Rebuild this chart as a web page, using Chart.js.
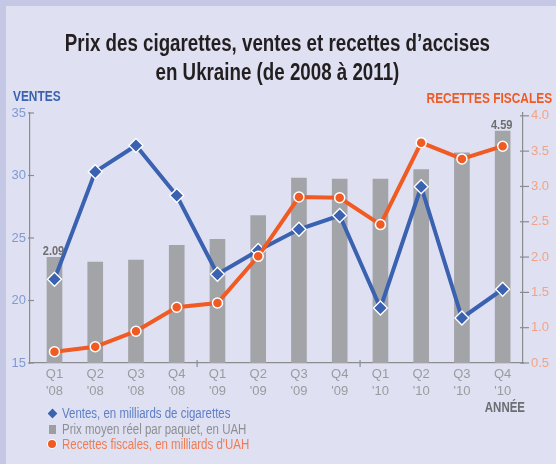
<!DOCTYPE html>
<html>
<head>
<meta charset="utf-8">
<script src="https://cdn.jsdelivr.net/npm/chart.js@4/dist/chart.umd.min.js"></script>
<style>
  html, body { margin: 0; padding: 0; }
  body { width: 556px; height: 464px; position: relative; overflow: hidden; background: #dfe1f2;
         font-family: "Liberation Sans", Arial, sans-serif; }
  #bandTop { position: absolute; left: 0; top: 0; width: 556px; height: 6px; background: #c5c8e5; }
  #bandLeft { position: absolute; left: 0; top: 0; width: 6px; height: 464px; background: #c5c8e5; }
  #chart { position: absolute; left: 0; top: 0; }
  #title { position: absolute; left: 0; top: 29px; width: 556px; text-align: center; font-weight: bold;
           font-size: 23px; line-height: 29px; color: #231f20; white-space: nowrap;
           transform: scaleX(0.815); transform-origin: 275px 0; }
  .axisTitle { position: absolute; font-weight: bold; font-size: 14px; line-height: 16px; white-space: nowrap; }
  #tVentes { left: 13px; top: 88px; color: #3a62b0; font-size: 14.5px; transform: scaleX(0.82); transform-origin: 0 0; }
  #tRecettes { right: 4px; top: 90px; color: #ef5a24; font-size: 14.5px; transform: scaleX(0.82); transform-origin: 100% 0; }
  #tAnnee { right: 31px; top: 399px; color: #6d6e71; transform: scaleX(0.82); transform-origin: 100% 0; }
  #legend { position: absolute; left: 46px; top: 406px; font-size: 14px; line-height: 15.5px; }
  .li { position: relative; padding-left: 16px; white-space: nowrap; }
  .tx { display: inline-block; transform: scaleX(0.82); transform-origin: 0 0; }
  .mk { position: absolute; display: block; }
  .dia { left: 3px; top: 4px; width: 7px; height: 7px; background: #3a62b0; transform: rotate(45deg); box-shadow: 0 0 0 0.8px #e8eaf6; }
  .sq { left: 3px; top: 3px; width: 7px; height: 9px; background: #9d9ea1; }
  .ci { left: 2px; top: 3px; width: 8px; height: 8px; border-radius: 50%; background: #f05a23; box-shadow: 0 0 0 1px #ffffff; }
</style>
</head>
<body>
<div id="bandTop"></div>
<div id="bandLeft"></div>
<canvas id="chart" width="556" height="464"></canvas>
<div id="title">Prix des cigarettes, ventes et recettes d’accises<br>en Ukraine (de 2008 à 2011)</div>
<div class="axisTitle" id="tVentes">VENTES</div>
<div class="axisTitle" id="tRecettes">RECETTES FISCALES</div>
<div class="axisTitle" id="tAnnee">ANNÉE</div>
<div id="legend">
  <div class="li" style="color:#5f7ec5"><span class="mk dia"></span><span class="tx">Ventes, en milliards de cigarettes</span></div>
  <div class="li" style="color:#8e8f92"><span class="mk sq"></span><span class="tx">Prix moyen réel par paquet, en UAH</span></div>
  <div class="li" style="color:#f07b52"><span class="mk ci"></span><span class="tx">Recettes fiscales, en milliards d'UAH</span></div>
</div>
<script>
// ---- data ----
const quarters = ["Q1", "Q2", "Q3", "Q4", "Q1", "Q2", "Q3", "Q4", "Q1", "Q2", "Q3", "Q4"];
const years = ["'08", "'08", "'08", "'08", "'09", "'09", "'09", "'09", "'10", "'10", "'10", "'10"];
const ventes = [21.7, 30.3, 32.4, 28.4, 22.1, 24.0, 25.7, 26.8, 19.4, 29.1, 18.6, 20.9];
const prix = [2.09, 2.00, 2.04, 2.33, 2.45, 2.92, 3.66, 3.64, 3.64, 3.83, 4.16, 4.59];
const recettes = [0.66, 0.73, 0.95, 1.29, 1.35, 2.01, 2.85, 2.84, 2.46, 3.62, 3.39, 3.57];
const leftTicks = [15, 20, 25, 30, 35];
const rightTicks = [0.5, 1.0, 1.5, 2.0, 2.5, 3.0, 3.5, 4.0];
const labelledBars = [0, 11];

const labels = quarters.map((q, i) => [q, years[i]]);
const FONT = '"Liberation Sans", Arial, sans-serif';
const AXIS = '#8b8c8f';

const decor = {
  id: 'decor',
  afterDraw(chart) {
    const ctx = chart.ctx;
    const xs = chart.scales.x, yl = chart.scales.yL, yr = chart.scales.yR;
    ctx.save();
    ctx.strokeStyle = AXIS;
    ctx.lineWidth = 1.2;
    yl.ticks.forEach((t, i) => {
      const y = yl.getPixelForTick(i);
      ctx.beginPath(); ctx.moveTo(yl.right - 2, y); ctx.lineTo(yl.right + 4, y); ctx.stroke();
    });
    yr.ticks.forEach((t, i) => {
      const y = yr.getPixelForTick(i);
      ctx.beginPath(); ctx.moveTo(yr.left - 3, y); ctx.lineTo(yr.left + 6, y); ctx.stroke();
    });
    // year separators on the x axis
    for (let i = 1; i < years.length; i++) {
      if (years[i] !== years[i - 1]) {
        const x = (xs.getPixelForValue(i - 1) + xs.getPixelForValue(i)) / 2;
        ctx.beginPath(); ctx.moveTo(x, xs.top - 3); ctx.lineTo(x, xs.top + 4); ctx.stroke();
      }
    }
    // value labels above first and last bars
    const meta = chart.getDatasetMeta(2);
    ctx.fillStyle = '#6d6e71';
    ctx.font = 'bold 13px ' + FONT;
    ctx.textAlign = 'center';
    ctx.textBaseline = 'alphabetic';
    labelledBars.forEach(i => {
      const el = meta.data[i];
      ctx.save();
      ctx.translate(el.x - 1, el.y - 2);
      ctx.scale(0.85, 1);
      ctx.fillText(prix[i].toFixed(2), 0, 0);
      ctx.restore();
    });
    ctx.restore();
  }
};

new Chart(document.getElementById('chart'), {
  data: {
    labels: labels,
    datasets: [
      { type: 'line', label: "Recettes fiscales, en milliards d'UAH", data: recettes, yAxisID: 'yR',
        borderColor: '#f05a23', borderWidth: 4, tension: 0, order: 0,
        pointStyle: 'circle', pointRadius: 5, pointBackgroundColor: '#f05a23',
        pointBorderColor: '#ffffff', pointBorderWidth: 1.5 },
      { type: 'line', label: 'Ventes, en milliards de cigarettes', data: ventes, yAxisID: 'yL',
        borderColor: '#3a62b0', borderWidth: 4, tension: 0, order: 1,
        pointStyle: 'rectRot', pointRadius: 7, pointBackgroundColor: '#3a62b0',
        pointBorderColor: '#ffffff', pointBorderWidth: 1.3 },
      { type: 'bar', label: 'Prix moyen réel par paquet, en UAH', data: prix, yAxisID: 'yP',
        backgroundColor: '#a3a4a8', barThickness: 15, order: 2 }
    ]
  },
  options: {
    responsive: false,
    animation: false,
    events: [],
    layout: { padding: { top: 113, left: 0, right: 0, bottom: 0 } },
    plugins: { legend: { display: false }, tooltip: { enabled: false }, title: { display: false } },
    scales: {
      x: {
        type: 'category', offset: true,
        grid: { display: false, drawTicks: false },
        border: { display: true, color: AXIS, width: 1.2 },
        ticks: { color: '#9a9b9e', font: { family: FONT, size: 13, lineHeight: 1.32 }, padding: 3,
                 maxRotation: 0, autoSkip: false },
        afterBuildTicks(s) { s._startValue = -0.601; s._valueRange = 12.1; },
        afterFit(s) { s.height = 101; }
      },
      yL: {
        position: 'left', min: leftTicks[0], max: leftTicks[leftTicks.length - 1],
        afterBuildTicks(s) { s.ticks = leftTicks.map(v => ({ value: v })); },
        ticks: { color: '#7f9ad2', font: { family: FONT, size: 13 }, padding: 4 },
        grid: { drawOnChartArea: false, drawTicks: false },
        border: { display: true, color: AXIS, width: 1.2 },
        afterFit(s) { s.width = 30; }
      },
      yR: {
        position: 'right', min: rightTicks[0], max: 4.04,
        afterBuildTicks(s) { s.ticks = rightTicks.map(v => ({ value: v })); },
        ticks: { color: '#f2a387', font: { family: FONT, size: 13 }, padding: 8,
                 callback: v => Number(v).toFixed(1) },
        grid: { drawOnChartArea: false, drawTicks: false },
        border: { display: true, color: AXIS, width: 1.2 },
        afterFit(s) { s.width = 33; }
      },
      yP: { display: false, min: 0, max: 4.95 }
    }
  },
  plugins: [decor]
});
</script>
</body>
</html>
